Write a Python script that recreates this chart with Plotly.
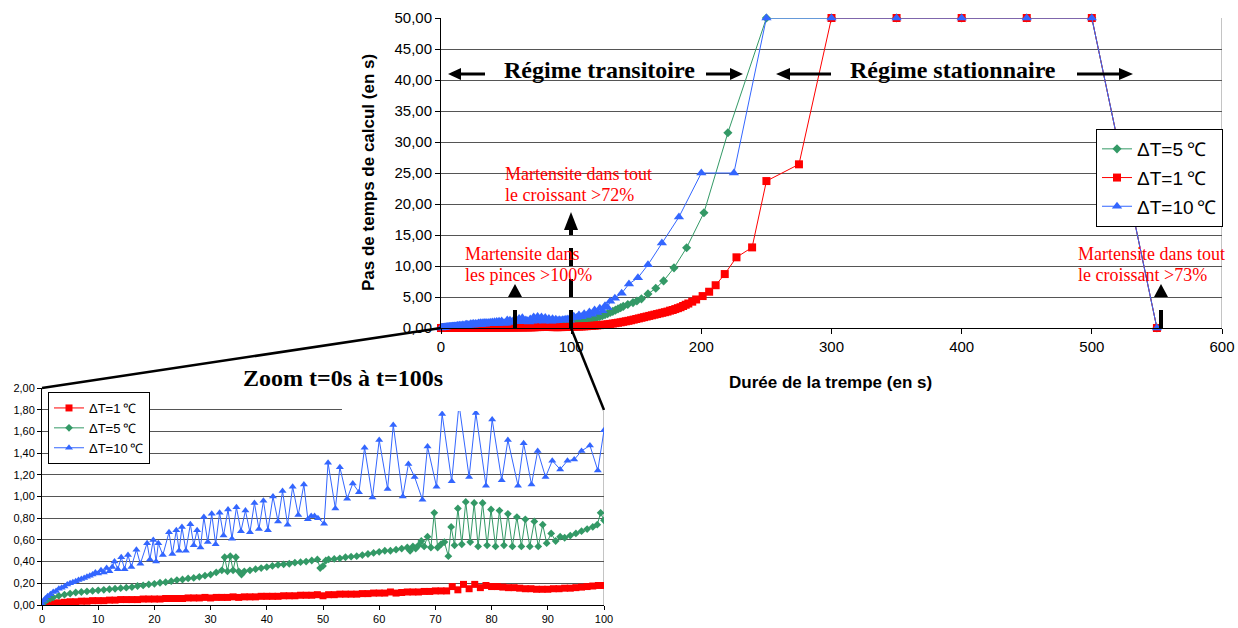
import plotly.graph_objects as go

W, H = 1238, 628

# ---------------- data ----------------
# Zoom window 0..100 s
zoom_t_red = list(range(101))
zoom_red = [
    0.000, 0.010, 0.015, 0.020, 0.025, 0.030, 0.030, 0.035, 0.035, 0.040,
    0.040, 0.040, 0.045, 0.045, 0.050, 0.050, 0.050, 0.050, 0.055, 0.055,
    0.055, 0.055, 0.060, 0.060, 0.060, 0.060, 0.065, 0.065, 0.065, 0.070,
    0.065, 0.070, 0.070, 0.070, 0.075, 0.070, 0.075, 0.075, 0.075, 0.080,
    0.080, 0.080, 0.080, 0.085, 0.085, 0.085, 0.090, 0.090, 0.090, 0.095,
    0.085, 0.095, 0.095, 0.100, 0.100, 0.100, 0.100, 0.105, 0.105, 0.110,
    0.110, 0.110, 0.120, 0.110, 0.115, 0.120, 0.120, 0.120, 0.125, 0.125,
    0.130, 0.130, 0.130, 0.170, 0.140, 0.190, 0.150, 0.190, 0.160, 0.180,
    0.170, 0.170, 0.165, 0.160, 0.160, 0.155, 0.150, 0.150, 0.145, 0.145,
    0.145, 0.150, 0.150, 0.155, 0.155, 0.160, 0.165, 0.170, 0.175, 0.180,
    0.180,
]

zoom_t_green = [
    0, 0.5, 1, 1.5, 2, 3, 4, 5, 6, 7, 8, 9, 10, 11, 12, 13, 14, 15, 16, 17,
    18, 19, 20, 21, 22, 23, 24, 25, 26, 27, 28, 29, 30, 31, 32, 32.5, 33, 33.5,
    34, 34.5, 35, 35.5, 36, 37, 38, 39, 40, 41, 42, 43, 44, 45, 46, 47, 48, 49,
    49.5, 50, 50.5, 51, 52, 53, 54, 55, 56, 57, 58, 59, 60, 61, 62, 63, 64, 65,
    65.5, 66, 66.5, 67, 67.5, 68, 68.6, 69.2, 69.8, 70.4, 71, 71.6, 72.3, 72.8,
    73.4, 74, 74.7, 75.4, 76.2, 76.9, 77.6, 78.4, 79.2, 79.9, 80.7, 81.4, 82.2,
    82.9, 83.7, 84.5, 85.3, 86, 86.8, 87.6, 88.3, 89.1, 89.8, 90.6, 91.4, 92.2,
    93, 94, 95, 96, 97, 98, 98.8, 99.4, 100,
]
zoom_green = [
    0.00, 0.03, 0.05, 0.06, 0.07, 0.085, 0.095, 0.105, 0.115, 0.12, 0.125, 0.13,
    0.135, 0.14, 0.145, 0.15, 0.155, 0.16, 0.165, 0.175, 0.18, 0.19, 0.195,
    0.205, 0.21, 0.22, 0.23, 0.235, 0.245, 0.25, 0.26, 0.27, 0.28, 0.30, 0.32,
    0.44, 0.31, 0.45, 0.32, 0.44, 0.31, 0.28, 0.31, 0.32, 0.33, 0.34, 0.35,
    0.36, 0.37, 0.375, 0.38, 0.39, 0.395, 0.40, 0.41, 0.42, 0.34, 0.36, 0.41,
    0.42, 0.425, 0.43, 0.44, 0.445, 0.45, 0.46, 0.47, 0.48, 0.49, 0.50, 0.50,
    0.51, 0.52, 0.53, 0.50, 0.54, 0.52, 0.55, 0.59, 0.54, 0.63, 0.53, 0.85,
    0.53, 0.56, 0.58, 0.45, 0.72, 0.55, 0.89, 0.56, 0.95, 0.58, 0.94, 0.54,
    0.94, 0.55, 0.88, 0.54, 0.87, 0.55, 0.84, 0.54, 0.81, 0.54, 0.79, 0.54,
    0.77, 0.54, 0.74, 0.57, 0.66, 0.59, 0.63, 0.62, 0.64, 0.66, 0.68, 0.70,
    0.72, 0.74, 0.85, 0.78,
]

zoom_t_blue = [
    0, 0.3, 0.6, 1, 1.5, 2, 2.5, 3, 3.5, 4, 4.5, 5, 5.5, 6, 6.5, 7, 7.5, 8, 8.5,
    9, 9.5, 10, 10.5, 11, 11.5, 12, 12.5, 12.9, 13.5, 14.1, 14.7, 15.3, 15.9,
    16.8, 17.5, 18.7, 19.2, 19.8, 20.3, 20.7, 21.5, 22.6, 23.2, 23.9, 24.4, 24.9,
    25.6, 26.4, 27.0, 27.6, 28.2, 28.8, 29.5, 30.2, 30.9, 31.6, 32.3, 33.1, 33.8,
    34.6, 35.4, 36.2, 37.0, 37.8, 38.6, 39.4, 40.2, 41.1, 42.0, 42.8, 43.7, 44.6,
    45.6, 46.6, 47.3, 47.9, 48.5, 49.1, 50.2, 50.9, 52.2, 53.0, 54.3, 55.3, 56.4,
    57.4, 58.8, 60.0, 61.5, 62.5, 64.2, 65.2, 66.3, 67.7, 68.6, 70.2, 71.2, 72.9,
    74.2, 76.0, 77.2, 79.0, 80.1, 81.8, 82.9, 84.7, 85.7, 87.1, 88.2, 89.6, 90.8,
    92.2, 93.5, 94.7, 96.0, 97.5, 98.9, 100.0,
]
zoom_blue = [
    0.01, 0.04, 0.06, 0.08, 0.10, 0.12, 0.13, 0.15, 0.16, 0.17, 0.19, 0.20, 0.21,
    0.22, 0.23, 0.24, 0.25, 0.26, 0.27, 0.28, 0.30, 0.29, 0.32, 0.30, 0.34, 0.31,
    0.35, 0.40, 0.33, 0.44, 0.33, 0.46, 0.35, 0.51, 0.38, 0.57, 0.42, 0.60, 0.40,
    0.57, 0.46, 0.67, 0.47, 0.69, 0.50, 0.72, 0.50, 0.745, 0.55, 0.69, 0.53, 0.81,
    0.58, 0.84, 0.56, 0.85, 0.64, 0.88, 0.61, 0.90, 0.68, 0.87, 0.67, 0.94, 0.70,
    0.96, 0.69, 1.00, 0.77, 1.05, 0.74, 1.09, 0.83, 1.11, 0.79, 0.82, 0.82, 0.80,
    0.75, 1.31, 0.89, 1.27, 0.98, 1.12, 1.04, 1.45, 0.99, 1.52, 1.07, 1.66, 1.00,
    1.30, 1.18, 0.97, 1.46, 1.09, 1.76, 1.14, 1.85, 1.18, 1.77, 1.10, 1.71, 1.15,
    1.52, 1.10, 1.49, 1.11, 1.42, 1.18, 1.33, 1.25, 1.33, 1.34, 1.42, 1.47, 1.24,
    1.61,
]

# After 100 s (main chart only)
late_t_red = [
    102, 104, 106, 108, 110, 112, 114, 116, 118, 120, 122, 124, 126, 128, 130,
    132, 134, 136, 138, 140, 142, 144, 146, 148, 150, 152, 154, 156, 158, 160,
    162, 164, 166, 168, 170, 172, 174, 176, 178, 180, 182, 184, 186, 188, 190,
    193, 196, 201, 206, 211, 218, 227, 239, 250, 275, 300, 350, 400, 450, 500, 550,
]
late_red = [
    0.20, 0.21, 0.23, 0.25, 0.27, 0.29, 0.32, 0.35, 0.38, 0.42, 0.46, 0.50, 0.55,
    0.60, 0.66, 0.72, 0.78, 0.85, 0.92, 1.00, 1.08, 1.16, 1.25, 1.35, 1.45, 1.55,
    1.65, 1.75, 1.85, 1.95, 2.05, 2.15, 2.25, 2.35, 2.45, 2.55, 2.65, 2.80, 2.90,
    3.05, 3.20, 3.35, 3.55, 3.75, 3.95, 4.25, 4.60, 5.15, 5.85, 6.90, 8.70, 11.40,
    13.00, 23.70, 26.40, 50, 50, 50, 50, 50, 0,
]

late_t_green = [
    102, 104, 106, 108, 110, 112, 114, 116, 118, 120, 122, 124, 126, 128, 130,
    132, 134, 136, 138, 140, 143.5, 147.5, 150.5, 154, 159, 165, 171, 179, 188.7,
    202, 220.4, 250, 300, 350, 400, 450, 500, 550,
]
late_green = [
    0.84, 0.90, 0.96, 1.04, 1.12, 1.22, 1.32, 1.44, 1.56, 1.70, 1.84, 2.00, 2.16,
    2.32, 2.50, 2.68, 2.88, 3.08, 3.28, 3.48, 3.80, 4.10, 4.35, 4.70, 5.50, 6.40,
    7.60, 9.70, 12.95, 18.60, 31.50, 50, 50, 50, 50, 50, 50, 0,
]

late_t_blue = [
    102, 104, 106, 108, 110, 112, 114, 116, 118, 120, 122, 124, 126, 128, 130,
    133.6, 138.8, 144.4, 151.3, 159, 169.7, 182.8, 200, 225, 250, 300, 350, 400,
    450, 500, 550,
]
late_blue = [
    1.9, 1.7, 2.1, 1.8, 2.3, 2.0, 2.6, 2.2, 2.9, 2.5, 3.2, 2.8, 3.6, 3.3, 4.3,
    4.8, 5.6, 7.1, 8.1, 10.2, 13.7, 17.9, 25, 25, 50, 50, 50, 50, 50, 50, 0,
]

main_xticks = [0, 100, 200, 300, 400, 500, 600]
main_yticks = [0, 5, 10, 15, 20, 25, 30, 35, 40, 45, 50]
zoom_xticks = [0, 10, 20, 30, 40, 50, 60, 70, 80, 90, 100]
zoom_yticks = [0, 0.2, 0.4, 0.6, 0.8, 1.0, 1.2, 1.4, 1.6, 1.8, 2.0]

# ---------------- style ----------------
RED, GREEN, BLUE = "#FF0000", "#339966", "#3366FF"
SANS = "Liberation Sans"
SERIF = "Liberation Serif"


def px(x):
    return x / W


def py(y):
    return 1 - y / H


t_red = zoom_t_red + late_t_red
v_red = zoom_red + late_red
t_green = zoom_t_green + late_t_green
v_green = zoom_green + late_green
t_blue = zoom_t_blue + late_t_blue
v_blue = zoom_blue + late_blue

fig = go.Figure()

# main chart traces (legend order: 5, 1, 10)
for name, t, v, col, sym, sz, grp in [
    ("ΔT=5\u2009℃", t_green, v_green, GREEN, "diamond", 7, "m5"),
    ("ΔT=1\u2009℃", t_red, v_red, RED, "square", 8, "m1"),
    ("ΔT=10\u2009℃", t_blue, v_blue, BLUE, "triangle-up", 9, "m10"),
]:
    fig.add_trace(go.Scatter(
        x=t, y=v, name=name, mode="lines+markers",
        line=dict(color=col, width=1),
        marker=dict(color=col, symbol=sym, size=sz, line=dict(width=0)),
        xaxis="x", yaxis="y", legend="legend", legendgroup=grp,
        cliponaxis=False,
    ))

# zoom chart traces (legend order: 1, 5, 10)
for name, t, v, col, sym, sz, grp in [
    ("ΔT=1\u2009℃", t_red, v_red, RED, "square", 7, "z1"),
    ("ΔT=5\u2009℃", t_green, v_green, GREEN, "diamond", 6, "z5"),
    ("ΔT=10\u2009℃", t_blue, v_blue, BLUE, "triangle-up", 7, "z10"),
]:
    fig.add_trace(go.Scatter(
        x=t, y=v, name=name, mode="lines+markers",
        line=dict(color=col, width=1),
        marker=dict(color=col, symbol=sym, size=sz, line=dict(width=0)),
        xaxis="x2", yaxis="y2", legend="legend2", legendgroup=grp,
        cliponaxis=True,
    ))

GRID = "#555555"

fig.update_layout(
    width=W, height=H,
    margin=dict(l=0, r=0, t=0, b=0, autoexpand=False),
    paper_bgcolor="white", plot_bgcolor="rgba(0,0,0,0)",
    separators=", ",
    font=dict(family=SANS, color="black"),
    xaxis=dict(
        domain=[px(441), px(1222)], range=[0, 600], anchor="y",
        tickvals=main_xticks, ticks="outside", ticklen=5, tickcolor="black",
        showline=True, linecolor="black", linewidth=1,
        showgrid=False, zeroline=False, tickfont=dict(size=15),
    ),
    yaxis=dict(
        domain=[py(328), py(18)], range=[0, 50], anchor="x",
        tickvals=main_yticks, tickformat=".2f", ticks="outside", ticklen=5,
        tickcolor="black", showline=True, linecolor="black", linewidth=1,
        showgrid=True, gridcolor=GRID, gridwidth=1, zeroline=False,
        tickfont=dict(size=15),
    ),
    xaxis2=dict(
        domain=[px(42), px(604)], range=[0, 100], anchor="y2",
        tickvals=zoom_xticks, ticks="outside", ticklen=4, tickcolor="black",
        showline=True, linecolor="black", linewidth=1,
        showgrid=False, zeroline=False, tickfont=dict(size=11),
    ),
    yaxis2=dict(
        domain=[py(605), py(388)], range=[0, 2], anchor="x2",
        tickvals=zoom_yticks, tickformat=".2f", ticks="outside", ticklen=4,
        tickcolor="black", showline=True, linecolor="black", linewidth=1,
        showgrid=True, gridcolor=GRID, gridwidth=1, zeroline=False,
        tickfont=dict(size=11),
    ),
    legend=dict(
        x=px(1096), y=py(129), xanchor="left", yanchor="top",
        bgcolor="white", bordercolor="black", borderwidth=1,
        font=dict(family=SANS, size=19), tracegroupgap=1,
        itemwidth=30,
    ),
    legend2=dict(
        x=px(48), y=py(392), xanchor="left", yanchor="top",
        bgcolor="white", bordercolor="black", borderwidth=1,
        font=dict(family=SANS, size=13), tracegroupgap=0,
        itemwidth=30,
    ),
    showlegend=True,
)

shapes = []
# right borders of both plot areas
shapes.append(dict(type="line", xref="x", yref="y", x0=600, x1=600, y0=0, y1=50,
                   line=dict(color="#888888", width=1), layer="below"))
shapes.append(dict(type="line", xref="x2", yref="y2", x0=100, x1=100, y0=0, y1=2,
                   line=dict(color="#888888", width=1), layer="below"))
# white area of the main chart overlapping the zoom chart
shapes.append(dict(type="rect", xref="paper", yref="paper",
                   x0=px(342), x1=px(616), y0=py(411), y1=py(362),
                   fillcolor="white", line=dict(width=0), layer="above"))
# zoom connector lines
shapes.append(dict(type="line", xref="paper", yref="paper",
                   x0=px(42), y0=py(388), x1=px(441), y1=py(328),
                   line=dict(color="black", width=2.5), layer="above"))
shapes.append(dict(type="line", xref="paper", yref="paper",
                   x0=px(604), y0=py(410), x1=px(571), y1=py(328),
                   line=dict(color="black", width=2.5), layer="above"))


def v_arrow(xp, base, tip):
    shapes.append(dict(type="line", xref="paper", yref="paper",
                       x0=px(xp), y0=py(328), x1=px(xp), y1=py(base),
                       line=dict(color="black", width=4, dash="18px,13px"),
                       layer="above"))
    shapes.append(dict(type="path", xref="paper", yref="paper",
                       path=f"M {px(xp-7)},{py(base)} L {px(xp+7)},{py(base)} L {px(xp)},{py(tip)} Z",
                       fillcolor="black", line=dict(width=0), layer="above"))


def h_arrow(tail, base, tip, yp):
    shapes.append(dict(type="line", xref="paper", yref="paper",
                       x0=px(tail), y0=py(yp), x1=px(base), y1=py(yp),
                       line=dict(color="black", width=3), layer="above"))
    shapes.append(dict(type="path", xref="paper", yref="paper",
                       path=f"M {px(base)},{py(yp-6)} L {px(base)},{py(yp+6)} L {px(tip)},{py(yp)} Z",
                       fillcolor="black", line=dict(width=0), layer="above"))


v_arrow(515, 297, 284)
v_arrow(571, 230, 212)
v_arrow(1161, 297, 284)

h_arrow(485, 461, 448, 74)
h_arrow(706, 730, 743, 74)
h_arrow(831, 790, 776, 74)
h_arrow(1077, 1119, 1133, 74)

fig.update_layout(shapes=shapes)

ann = []


def text(x, y, s, size, color="black", family=SERIF, xanchor="center", angle=0):
    ann.append(dict(xref="paper", yref="paper", x=px(x), y=py(y), text=s,
                    showarrow=False, xanchor=xanchor, yanchor="middle",
                    font=dict(family=family, size=size, color=color),
                    textangle=angle))


text(599, 70, "<b>Régime transitoire</b>", 24)
text(953, 70, "<b>Régime stationnaire</b>", 24)
text(343, 378, "<b>Zoom t=0s à t=100s</b>", 24)

text(503, 174, "Martensite dans tout", 18, RED, xanchor="left")
text(503, 195, "le croissant &gt;72%", 18, RED, xanchor="left")
text(463, 254, "Martensite dans", 18, RED, xanchor="left")
text(463, 275, "les pinces &gt;100%", 18, RED, xanchor="left")
text(1076, 254, "Martensite dans tout", 18, RED, xanchor="left")
text(1076, 275, "le croissant &gt;73%", 18, RED, xanchor="left")

text(830, 382, "<b>Durée de la trempe (en s)</b>", 17, family=SANS)
text(368, 173, "<b>Pas de temps de calcul (en s)</b>", 17, family=SANS, angle=-90)

fig.update_layout(annotations=ann)

fig.write_html("out.html", config={"displayModeBar": False},
               post_script="document.body.style.margin='0px';")
